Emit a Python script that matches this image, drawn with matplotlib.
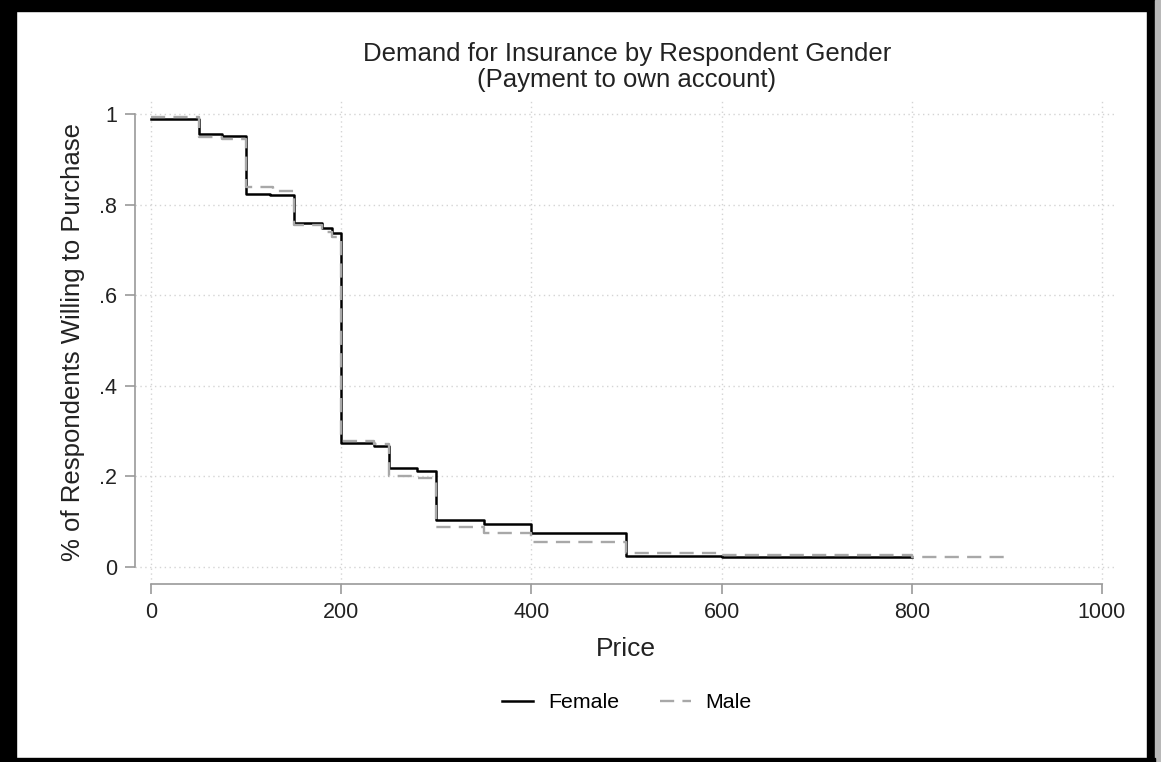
import matplotlib
matplotlib.use("Agg")
import matplotlib.pyplot as plt
from matplotlib.patches import Rectangle

plt.rcParams["font.family"] = ["Liberation Sans", "DejaVu Sans"]

# step points (value holds until the next price)
female_price = [0, 50, 75, 100, 125, 150, 180, 190, 200, 235, 250, 280, 300, 350, 400, 500, 600, 800]
female_share = [0.990, 0.956, 0.952, 0.825, 0.821, 0.761, 0.750, 0.739, 0.274, 0.267,
                0.219, 0.212, 0.104, 0.095, 0.075, 0.024, 0.021, 0.021]

male_price = [0, 50, 75, 100, 128, 150, 180, 190, 200, 235, 250, 280, 300, 350, 400, 500, 600, 800, 900]
male_share = [0.995, 0.950, 0.946, 0.840, 0.830, 0.756, 0.741, 0.730, 0.279, 0.272,
              0.201, 0.196, 0.088, 0.075, 0.055, 0.031, 0.027, 0.022, 0.022]

x_ticks = [0, 200, 400, 600, 800, 1000]
y_ticks = [0, 0.2, 0.4, 0.6, 0.8, 1.0]
y_tick_labels = ["0", ".2", ".4", ".6", ".8", "1"]

W, H = 1161, 762
fig = plt.figure(figsize=(W / 100, H / 100), dpi=100)
fig.patch.set_facecolor("white")

# axes box in pixels: left 135, right 1117, top 100, bottom 584
ax = fig.add_axes([135 / W, 1 - 584 / H, (1117 - 135) / W, (584 - 100) / H])
ax.set_xlim(-16.8, 1015.8)
ax.set_ylim(-0.0376, 1.032)

ax.step(female_price, female_share, where="post", color="black", lw=1.8, label="Female")
ax.step(male_price, male_share, where="post", color="#a8a8a8", lw=1.7,
        linestyle=(0, (6, 3.5)), label="Male")

ax.set_xticks(x_ticks)
ax.set_yticks(y_ticks)
ax.set_yticklabels(y_tick_labels)
ax.grid(True, color="#d4d4d4", linestyle=(0, (1, 2.5)), lw=1)
ax.set_axisbelow(True)

for side in ["top", "right"]:
    ax.spines[side].set_visible(False)
ax.spines["left"].set_bounds(0, 1)
ax.spines["bottom"].set_bounds(0, 1000)
for side in ["left", "bottom"]:
    ax.spines[side].set_color("#9a9a9a")
    ax.spines[side].set_linewidth(1.2)
ax.tick_params(axis="both", length=7, width=1.2, color="#9a9a9a", labelsize=15.5,
               labelcolor="#222222", pad=6)

ax.set_xlabel("Price", fontsize=19, color="#222222", labelpad=10)
ax.set_ylabel("% of Respondents Willing to Purchase", fontsize=18.5, color="#222222", labelpad=10)

fig.text(627 / W, 1 - 67 / H, "Demand for Insurance by Respondent Gender\n(Payment to own account)",
         ha="center", va="center", fontsize=18.5, color="#222222", linespacing=1.12)

fig.legend(loc="center", bbox_to_anchor=(627 / W, 1 - 703 / H), ncol=2, frameon=False,
           fontsize=15.4, handlelength=1.45, columnspacing=1.9, handletextpad=0.7)

# black frame around the picture
fig.patches.extend([
    Rectangle((0, 1 - 11 / H), 1, 11 / H, transform=fig.transFigure, color="black", zorder=10),
    Rectangle((0, 0), 16 / W, 1, transform=fig.transFigure, color="black", zorder=10),
    Rectangle((1147 / W, 0), 8 / W, 1, transform=fig.transFigure, color="black", zorder=10),
    Rectangle((1155 / W, 0), 6 / W, 1, transform=fig.transFigure, color="#b8b8b8", zorder=10),
    Rectangle((0, 0), 1155 / W, 4 / H, transform=fig.transFigure, color="black", zorder=10),
])

fig.savefig("out.png", dpi=100)
